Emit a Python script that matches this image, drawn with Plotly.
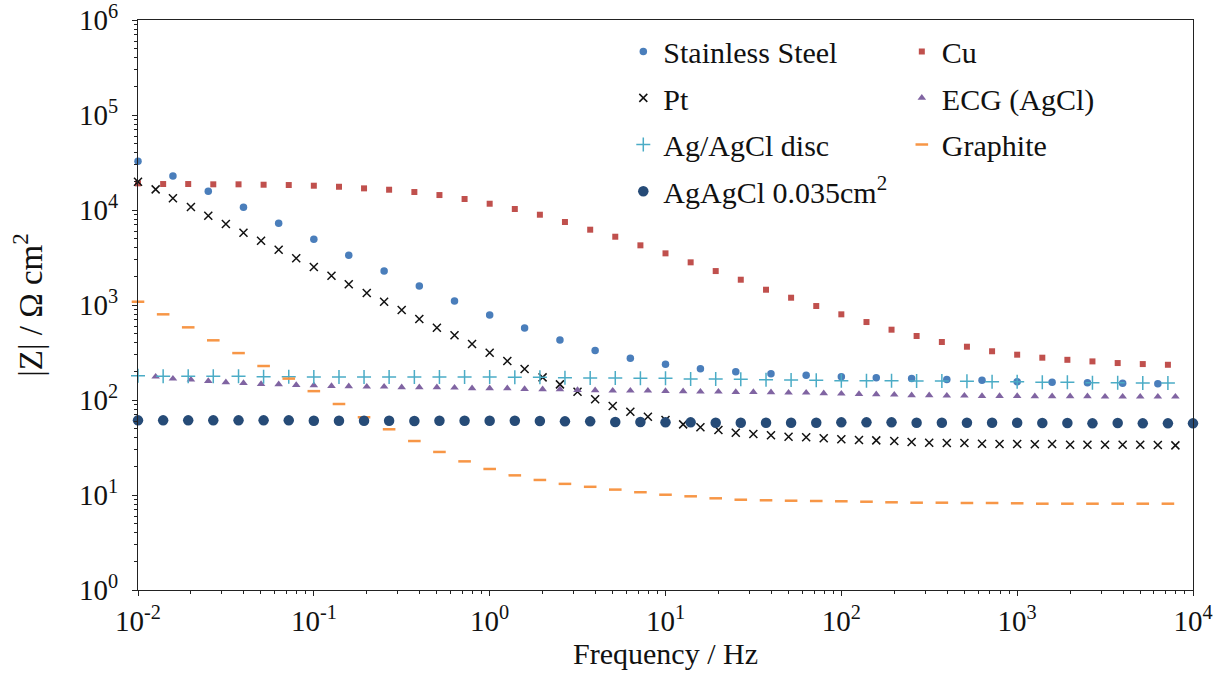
import plotly.graph_objects as go

# ---------------- data ----------------
# frequency grids (Hz)
freq_7pd = [0.01, 0.0139, 0.0193, 0.0268, 0.0373, 0.0518, 0.072,
            0.1, 0.139, 0.193, 0.268, 0.373, 0.518, 0.72,
            1, 1.39, 1.93, 2.68, 3.73, 5.18, 7.2,
            10, 13.9, 19.3, 26.8, 37.3, 51.8, 72,
            100, 139, 193, 268, 373, 518, 720,
            1000, 1390, 1930, 2680, 3730, 5180, 7200]
freq_agagcl = [0.01, 0.0139, 0.0193, 0.0268, 0.0373, 0.0518, 0.072,
               0.1, 0.139, 0.193, 0.268, 0.373, 0.518, 0.72,
               1, 1.39, 1.93, 2.68, 3.73, 5.18, 7.2,
               10, 13.9, 19.3, 26.8, 37.3, 51.8, 72,
               100, 139, 193, 268, 373, 518, 720,
               1000, 1390, 1930, 2680, 3730, 5180, 7200, 10000]
freq_ss = [0.01, 0.0158, 0.0251, 0.0398, 0.0631,
           0.1, 0.158, 0.251, 0.398, 0.631,
           1, 1.58, 2.51, 3.98, 6.31,
           10, 15.8, 25.1, 39.8, 63.1,
           100, 158, 251, 398, 631,
           1000, 1580, 2510, 3980, 6310]
freq_pt = [0.01, 0.0126, 0.0158, 0.02, 0.0251, 0.0316, 0.0398, 0.0501, 0.0631, 0.0794,
           0.1, 0.126, 0.158, 0.2, 0.251, 0.316, 0.398, 0.501, 0.631, 0.794,
           1, 1.26, 1.58, 2, 2.51, 3.16, 3.98, 5.01, 6.31, 7.94,
           10, 12.6, 15.8, 20, 25.1, 31.6, 39.8, 50.1, 63.1, 79.4,
           100, 126, 158, 200, 251, 316, 398, 501, 631, 794,
           1000, 1260, 1580, 2000, 2510, 3160, 3980, 5010, 6310, 7940]
freq_ecg = [0.0126, 0.0158, 0.02, 0.0251, 0.0316, 0.0398, 0.0501, 0.0631, 0.0794,
            0.1, 0.126, 0.158, 0.2, 0.251, 0.316, 0.398, 0.501, 0.631, 0.794,
            1, 1.26, 1.58, 2, 2.51, 3.16, 3.98, 5.01, 6.31, 7.94,
            10, 12.6, 15.8, 20, 25.1, 31.6, 39.8, 50.1, 63.1, 79.4,
            100, 126, 158, 200, 251, 316, 398, 501, 631, 794,
            1000, 1260, 1580, 2000, 2510, 3160, 3980, 5010, 6310, 7940]

z_stainless = [32580, 22800, 15730, 10670, 7245, 4917, 3337, 2278, 1585, 1102,
               785, 572, 428, 333, 275, 238, 213, 198, 189, 182,
               176, 172, 168, 164, 161, 156, 154, 152, 150, 148.5]
z_cu = [19090, 18780, 18780, 18650, 18650, 18470, 18330, 18030, 17580, 16910,
        16360, 15470, 14380, 13060, 11650, 10250, 8925, 7480, 6210, 5237,
        4250, 3499, 2814, 2278, 1847, 1449, 1194, 976, 798, 662,
        550, 472, 408, 364, 326, 300, 279, 265, 255, 245, 239, 235]
z_pt = [19860, 16510, 13280, 10760, 8710, 7125, 5770, 4753, 3823, 3102,
        2512, 2034, 1651, 1337, 1083, 886, 712, 577, 480, 388,
        315, 257, 212, 173, 146, 122, 102, 86.5, 75.3, 66.7,
        61.5, 55.4, 51.6, 48.3, 45.3, 43.9, 42.5, 41.1, 40.5, 39.5,
        38.6, 37.9, 37.6, 37.0, 36.1, 35.5, 35.3, 35.3, 34.7, 34.4,
        34.4, 34.2, 34.4, 33.8, 33.8, 33.8, 33.8, 33.8, 33.6, 33.3]
z_ecg = [176, 167.5, 163.6, 158.5, 153.5, 151, 147.3, 146.3, 143.8, 142.8,
         140.4, 139.4, 138.1, 138.1, 136.1, 136.1,
         136.1, 134.7, 132.7, 132.7, 132.7, 130.6, 129.6, 129.6, 127.4, 126.4,
         125.3, 125.3, 125.3, 124.4, 123.5, 122.3, 122.3, 121.4, 121.4, 120.5,
         119.4, 119.4,
         117.7, 116.5, 115.7, 114.9, 113.8, 112.1, 112.1, 111.0, 111.0, 110.2,
         110.2, 110.2, 109.4, 109.4, 109.4, 109.4, 108.3, 108.3, 108.3, 108.3, 108.3]
z_disc = [180, 177.6, 177.6, 177.6, 177.6, 176, 176, 174.6, 174.6, 174.6,
          174.6, 174.6, 174.6, 174.6, 174.6, 173.3, 173.3, 171.7, 170.5, 170.5,
          169.2, 169.2, 166.4, 166.4, 165.2, 163.7, 162.5, 161.2,
          159.7, 159.7, 159.7, 158.5, 158.5, 157.3, 156, 156, 153.7, 153.7,
          152.2, 152.2, 151, 151]
z_graphite = [1083, 798, 582, 425, 312, 228, 168, 124, 90.8, 65.8,
              49.2, 37.0, 28.4, 22.6, 18.8, 16.1, 14.4, 13.1, 12.2, 11.4,
              10.7, 10.07, 9.69, 9.23, 8.92, 8.80, 8.71, 8.65,
              8.59, 8.50, 8.38, 8.30, 8.30, 8.24, 8.24, 8.18, 8.10, 8.10,
              8.10, 8.10, 8.10, 8.10]
z_agagcl = [61.1, 61.1, 61.1, 61.1, 61.1, 61.1, 61.1, 60.5, 60.5, 60.5,
            60.5, 60.1,
            60.5, 60.5, 60.5, 60.5, 60.1, 59.6, 59.6, 58.7, 58.7, 58.2,
            58.2, 57.7, 57.7, 57.7, 57.7, 57.7,
            58.2, 58.2, 58.2, 57.7, 57.7, 57.7, 57.7, 57.7, 57.3, 57.3,
            56.8, 57.3, 56.8, 56.8, 56.8]

series_names = ["Stainless Steel", "Cu", "Pt", "ECG (AgCl)", "Ag/AgCl disc",
                "Graphite", "AgAgCl 0.035cm<sup>2</sup>"]

x_tick_vals = [0.01, 0.1, 1, 10, 100, 1000, 10000]
x_tick_text = ["10<sup>-2</sup>", "10<sup>-1</sup>", "10<sup>0</sup>", "10<sup>1</sup>",
               "10<sup>2</sup>", "10<sup>3</sup>", "10<sup>4</sup>"]
y_tick_vals = [1, 10, 100, 1000, 10000, 100000, 1000000]
y_tick_text = ["10<sup>0</sup>", "10<sup>1</sup>", "10<sup>2</sup>", "10<sup>3</sup>",
               "10<sup>4</sup>", "10<sup>5</sup>", "10<sup>6</sup>"]

FONT = "Liberation Serif"

fig = go.Figure()

styles = [
    (freq_ss, z_stainless, dict(symbol="circle", size=7.5, color="#4a7ebb")),
    (freq_7pd, z_cu, dict(symbol="square", size=6, color="#c0504d")),
    (freq_pt, z_pt, dict(symbol="x-thin", size=8, color="#111111",
                         line=dict(color="#111111", width=1.5))),
    (freq_ecg, z_ecg, dict(symbol="triangle-up", size=7.5, color="#8064a2")),
    (freq_7pd, z_disc, dict(symbol="cross-thin", size=10, color="#4bacc6",
                            line=dict(color="#4bacc6", width=1.5))),
    (freq_7pd, z_graphite, dict(symbol="line-ew", size=9, color="#f79646",
                                line=dict(color="#f79646", width=2.5))),
    (freq_agagcl, z_agagcl, dict(symbol="circle", size=10.5, color="#264b77")),
]

legend_ids = ["legend", "legend2", "legend3", "legend4", "legend5", "legend6", "legend7"]
for (fx, zy, mk), name, lid in zip(styles, series_names, legend_ids):
    fig.add_trace(go.Scatter(x=fx, y=zy, mode="markers", name=name, marker=mk,
                             cliponaxis=False, legend=lid, showlegend=True))

# legend placement: two columns like the original (row-major fill)
col_x = [0.46, 0.724]
row_y = [0.9446, 0.8634, 0.7815, 0.6997]
positions = [(0, 0), (1, 0), (0, 1), (1, 1), (0, 2), (1, 2), (0, 3)]
legend_layout = {}
for lid, (c, r) in zip(legend_ids, positions):
    legend_layout[lid] = dict(x=col_x[c], y=row_y[r], xanchor="left", yanchor="middle",
                              bgcolor="rgba(0,0,0,0)", borderwidth=0, visible=True,
                              font=dict(family=FONT, size=30, color="#111111"),
                              itemsizing="trace")

axis_common = dict(type="log", showline=True, linecolor="#222222", linewidth=1.3,
                   mirror=True, showgrid=False, zeroline=False, automargin=False,
                   ticks="outside", ticklen=5, tickwidth=1.2, tickcolor="#222222",
                   tickfont=dict(family=FONT, size=29, color="#111111"),
                   tickmode="array", ticklabeloverflow="allow",
                   minor=dict(dtick="D1", ticks="outside", ticklen=3, tickwidth=1,
                              tickcolor="#222222", showgrid=False))

fig.update_layout(
    width=1231, height=673,
    margin=dict(l=138, r=38, t=20, b=83),
    paper_bgcolor="white", plot_bgcolor="white",
    showlegend=True,
    font=dict(family=FONT, size=29, color="#111111"),
    xaxis=dict(axis_common, range=[-2, 4], tickvals=x_tick_vals, ticktext=x_tick_text,
               title=dict(text="Frequency / Hz", standoff=6,
                          font=dict(family=FONT, size=30, color="#111111"))),
    yaxis=dict(axis_common, range=[0, 6.0005], tickvals=y_tick_vals, ticktext=y_tick_text,
               ticklabelstandoff=8,
               title=dict(text="|Z| / \u03a9 cm<sup>2</sup>", standoff=26,
                          font=dict(family=FONT, size=33, color="#111111"))),
    **legend_layout,
)

fig.write_html("out.html")
